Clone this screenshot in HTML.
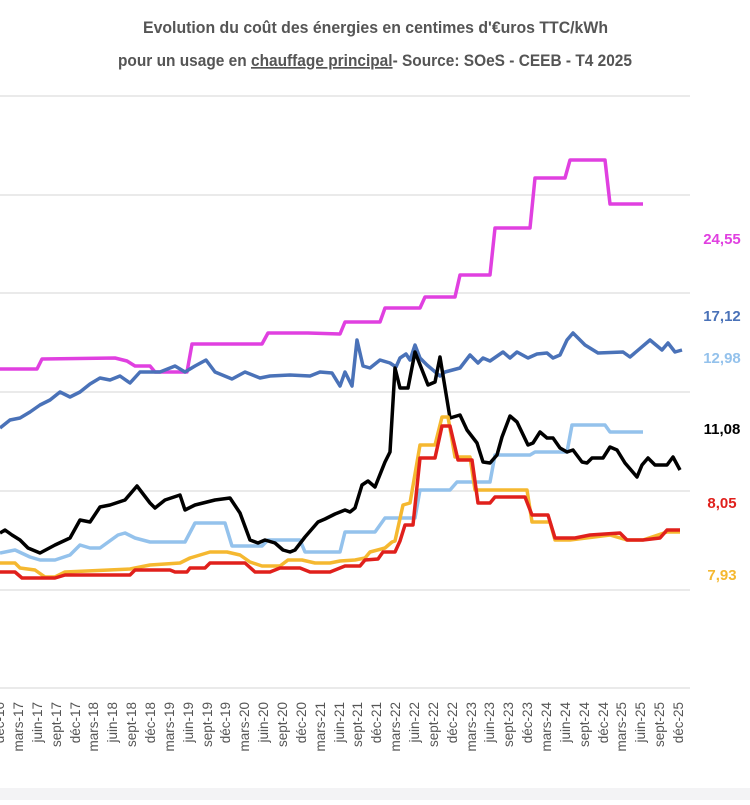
<!DOCTYPE html><html><head><meta charset="utf-8"><style>
body{margin:0;width:750px;height:800px;background:#fff;overflow:hidden;font-family:"Liberation Sans",sans-serif}
</style></head><body>
<svg width="750" height="800" xmlns="http://www.w3.org/2000/svg" font-family="Liberation Sans, sans-serif">
<rect x="0" y="0" width="750" height="800" fill="#fff"/>
<rect x="0" y="788" width="750" height="12" fill="#f3f3f5"/>
<text x="143" y="33" textLength="465" lengthAdjust="spacingAndGlyphs" font-size="17" font-weight="bold" fill="#555">Evolution du coût des énergies en centimes d'€uros TTC/kWh</text>
<text x="118" y="66" textLength="514" lengthAdjust="spacingAndGlyphs" font-size="17" font-weight="bold" fill="#555">pour un usage en <tspan text-decoration="underline">chauffage principal</tspan>- Source: SOeS - CEEB - T4 2025</text>
<g stroke="#e4e4e4" stroke-width="1.5">
<line x1="0" y1="96" x2="690" y2="96"/><line x1="0" y1="195" x2="690" y2="195"/><line x1="0" y1="293" x2="690" y2="293"/><line x1="0" y1="392" x2="690" y2="392"/><line x1="0" y1="491" x2="690" y2="491"/><line x1="0" y1="590" x2="690" y2="590"/><line x1="0" y1="688" x2="690" y2="688"/>
</g>
<g fill="none" stroke-width="3.5" stroke-linejoin="round">
<polyline stroke="#e040e0" points="0,369 37,369 42,359 115,358 127,361 135,366 150,366 155,372 187,372 192,344 262,344 268,333 308,333 340,334 345,322 380,322 385,308 420,308 425,297 455,297 460,275 490,275 495,228 530,228 535,178 565,178 570,160 605,160 610,204 643,204"/>
<polyline stroke="#4a72b8" points="0,428 10,420 20,418 30,412 40,405 50,400 60,392 70,397 80,392 90,384 100,378 110,380 120,376 130,383 140,372 160,372 175,366 185,372 195,366 206,360 215,372 232,379 245,372 260,378 270,376 290,375 310,376 320,372 332,373 340,386 345,372 352,386 357,340 363,366 370,368 380,360 390,363 396,367 400,358 406,354 410,360 415,345 420,358 427,365 440,376 445,372 460,368 470,355 478,363 483,358 490,361 503,352 510,358 517,352 528,358 537,354 547,353 553,358 560,355 567,340 573,333 585,345 598,353 623,352 630,357 650,340 662,350 668,343 675,352 682,350"/>
<polyline stroke="#94c2ec" points="0,553 15,550 30,557 40,560 55,560 70,555 80,545 90,548 100,548 118,535 125,533 135,538 150,542 185,542 195,523 225,523 232,546 262,546 268,540 300,540 305,552 340,552 345,532 375,532 385,518 415,518 420,490 450,490 457,482 490,482 495,455 530,455 535,452 567,452 572,425 605,425 610,432 643,432"/>
<polyline stroke="#000" points="0,533 5,530 12,535 20,540 28,548 40,553 55,545 70,538 80,520 90,522 100,507 110,505 125,500 137,486 150,503 155,508 165,500 180,495 185,510 195,505 215,500 230,498 240,513 250,540 258,543 265,540 275,543 283,550 290,552 295,550 305,537 318,522 325,519 335,514 345,510 350,512 355,508 362,485 368,481 375,487 385,462 390,452 395,368 400,388 408,388 415,352 428,385 435,382 440,357 450,418 460,415 467,430 477,443 483,462 490,463 497,455 502,437 510,416 517,422 528,445 533,443 540,432 547,438 553,438 560,448 567,452 573,450 582,462 587,463 592,458 603,458 610,447 617,450 625,463 637,477 642,465 648,458 655,465 667,465 673,457 680,470"/>
<polyline stroke="#f5b830" points="0,563 15,563 20,568 35,570 45,577 55,577 65,572 130,569 150,565 165,564 180,563 190,558 210,552 227,552 240,555 250,562 262,566 280,566 288,560 302,560 315,563 330,563 340,561 355,560 365,558 370,552 385,548 392,542 395,541 403,505 410,503 420,445 435,445 442,417 448,417 455,457 470,457 475,490 527,490 532,522 550,522 555,540 570,540 610,535 627,540 643,540 667,532 680,532"/>
<polyline stroke="#e0201c" points="0,572 15,572 22,578 55,578 65,575 130,575 135,570 170,570 175,572 187,572 190,568 205,568 210,563 245,563 255,572 270,572 280,568 300,568 310,572 330,572 345,566 360,566 365,560 378,559 383,552 395,552 400,541 405,525 413,525 420,458 435,458 442,426 450,426 458,460 472,460 478,503 490,503 495,497 525,497 532,515 548,515 555,538 575,538 590,535 620,533 627,540 643,540 660,538 667,530 680,530"/>
</g>
<g font-size="15" font-weight="bold" text-anchor="middle">
<text x="722" y="244" fill="#e040e0">24,55</text>
<text x="722" y="321" fill="#4a72b8">17,12</text>
<text x="722" y="363" fill="#94c2ec">12,98</text>
<text x="722" y="434" fill="#000">11,08</text>
<text x="722" y="508" fill="#e0201c">8,05</text>
<text x="722" y="580" fill="#f5b830">7,93</text>
</g>
<g font-size="13.5" fill="#555" text-anchor="end">
<text transform="translate(4,702) rotate(-90)">déc-16</text>
<text transform="translate(23,702) rotate(-90)">mars-17</text>
<text transform="translate(42,702) rotate(-90)">juin-17</text>
<text transform="translate(61,702) rotate(-90)">sept-17</text>
<text transform="translate(80,702) rotate(-90)">déc-17</text>
<text transform="translate(98,702) rotate(-90)">mars-18</text>
<text transform="translate(117,702) rotate(-90)">juin-18</text>
<text transform="translate(136,702) rotate(-90)">sept-18</text>
<text transform="translate(155,702) rotate(-90)">déc-18</text>
<text transform="translate(174,702) rotate(-90)">mars-19</text>
<text transform="translate(193,702) rotate(-90)">juin-19</text>
<text transform="translate(212,702) rotate(-90)">sept-19</text>
<text transform="translate(230,702) rotate(-90)">déc-19</text>
<text transform="translate(249,702) rotate(-90)">mars-20</text>
<text transform="translate(268,702) rotate(-90)">juin-20</text>
<text transform="translate(287,702) rotate(-90)">sept-20</text>
<text transform="translate(306,702) rotate(-90)">déc-20</text>
<text transform="translate(325,702) rotate(-90)">mars-21</text>
<text transform="translate(344,702) rotate(-90)">juin-21</text>
<text transform="translate(362,702) rotate(-90)">sept-21</text>
<text transform="translate(381,702) rotate(-90)">déc-21</text>
<text transform="translate(400,702) rotate(-90)">mars-22</text>
<text transform="translate(419,702) rotate(-90)">juin-22</text>
<text transform="translate(438,702) rotate(-90)">sept-22</text>
<text transform="translate(457,702) rotate(-90)">déc-22</text>
<text transform="translate(476,702) rotate(-90)">mars-23</text>
<text transform="translate(494,702) rotate(-90)">juin-23</text>
<text transform="translate(513,702) rotate(-90)">sept-23</text>
<text transform="translate(532,702) rotate(-90)">déc-23</text>
<text transform="translate(551,702) rotate(-90)">mars-24</text>
<text transform="translate(570,702) rotate(-90)">juin-24</text>
<text transform="translate(589,702) rotate(-90)">sept-24</text>
<text transform="translate(608,702) rotate(-90)">déc-24</text>
<text transform="translate(626,702) rotate(-90)">mars-25</text>
<text transform="translate(645,702) rotate(-90)">juin-25</text>
<text transform="translate(664,702) rotate(-90)">sept-25</text>
<text transform="translate(683,702) rotate(-90)">déc-25</text>
</g>
</svg>
</body></html>
